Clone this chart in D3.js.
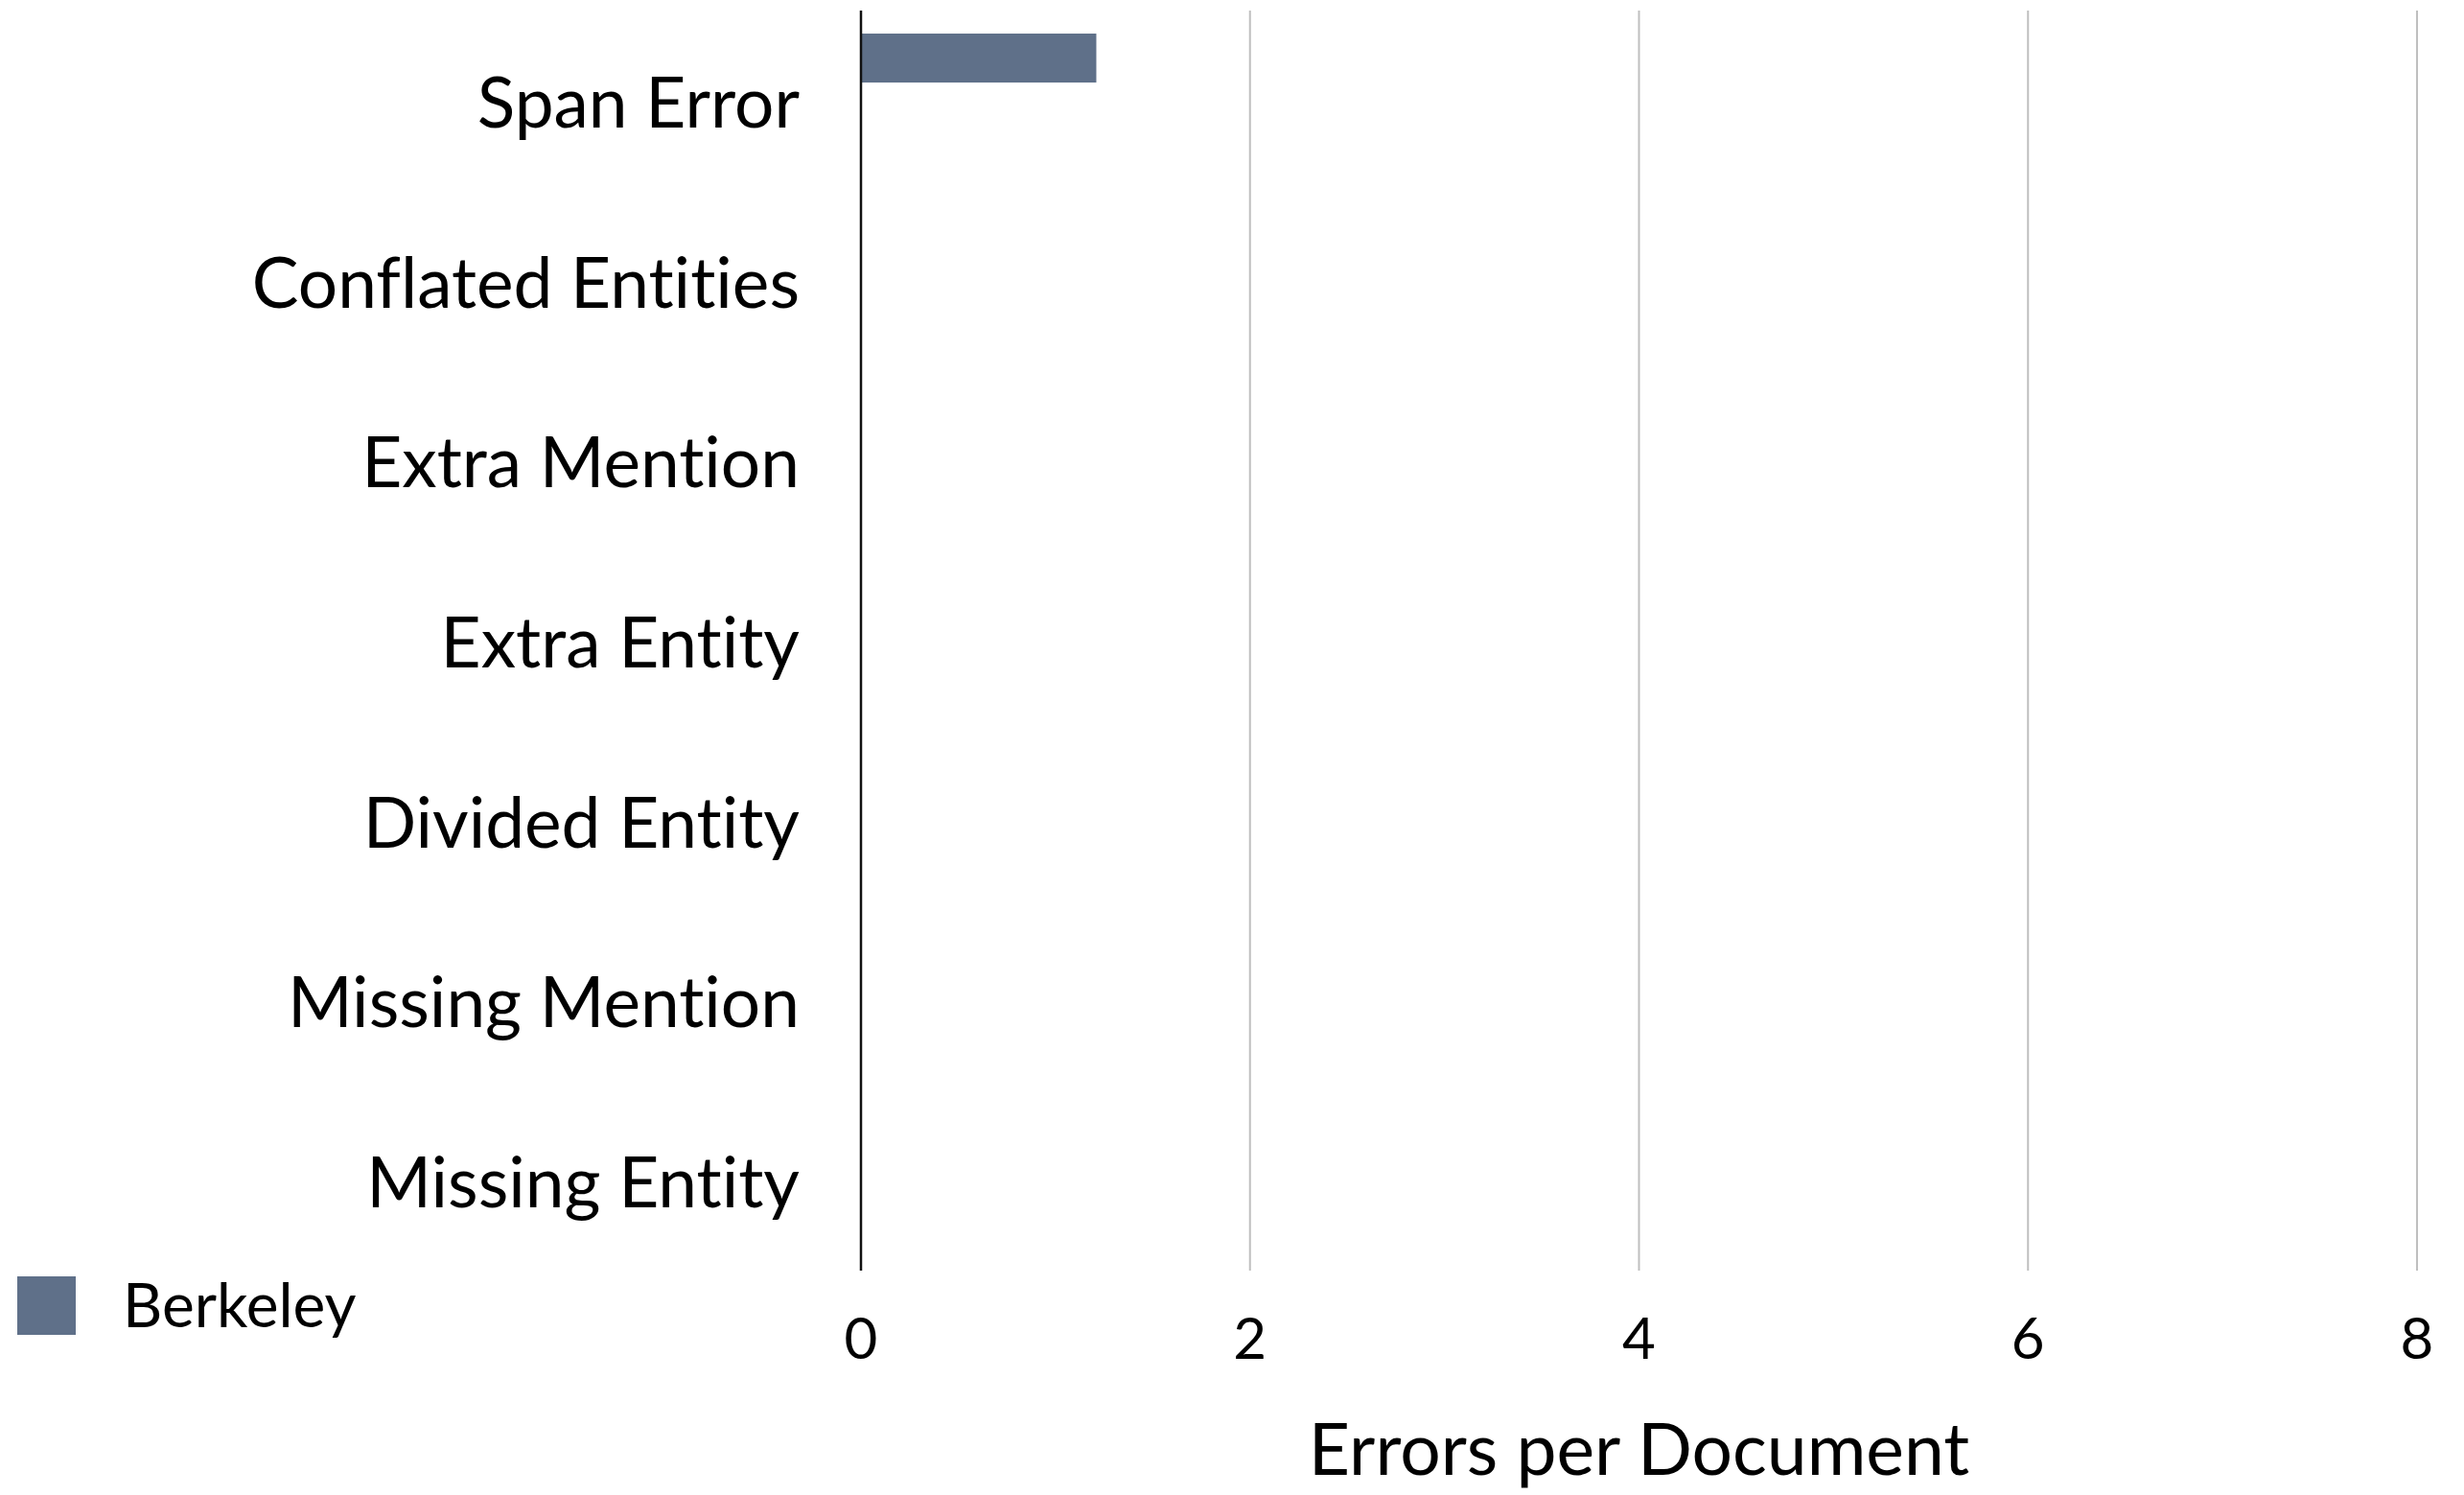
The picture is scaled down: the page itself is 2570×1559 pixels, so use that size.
<!DOCTYPE html>
<html>
<head>
<meta charset="utf-8">
<script src="https://cdn.jsdelivr.net/npm/d3@7"></script>
<style>
  html, body { margin: 0; padding: 0; background: #fff; }
  svg { display: block; }
  text { font-family: Lato, "Open Sans", sans-serif; fill: #000; font-variant-ligatures: none; font-feature-settings: "liga" 0, "clig" 0; }
</style>
</head>
<body>
<svg id="chart" width="2570" height="1559"></svg>
<script>
// Error categories, top to bottom
const categories = [
  "Span Error",
  "Conflated Entities",
  "Extra Mention",
  "Extra Entity",
  "Divided Entity",
  "Missing Mention",
  "Missing Entity"
];
const seriesNames = ["Berkeley"];
// Errors per document for the Berkeley system
const berkeleyValues = [1.21, 0, 0, 0, 0, 0, 0];
const xTicks = [0, 2, 4, 6, 8];
const xTitle = "Errors per Document";

const svg = d3.select("#chart");
const plot = { left: 898, right: 2521, top: 11, bottom: 1325 };
const barColor = "#5f7089";

const x = d3.scaleLinear().domain([0, 8]).range([plot.left, plot.right]);
const y = d3.scaleBand().domain(categories).range([plot.top, plot.bottom]).padding(0);
// position of the series bar inside each category band
const seriesBand = d3.scaleBand().domain(seriesNames)
  .range([y.bandwidth() * 0.128, y.bandwidth() * 0.4]);

// vertical gridlines
svg.append("g")
  .selectAll("line")
  .data(xTicks.filter(d => d !== 0))
  .join("line")
  .attr("x1", d => x(d)).attr("x2", d => x(d))
  .attr("y1", plot.top).attr("y2", plot.bottom)
  .attr("stroke", "#bfbfbf").attr("stroke-width", 2);

// bars
const data = categories.map((c, i) => ({ cat: c, value: berkeleyValues[i] }));
svg.append("g")
  .selectAll("rect")
  .data(data)
  .join("rect")
  .attr("x", x(0))
  .attr("y", d => y(d.cat) + seriesBand("Berkeley"))
  .attr("width", d => x(d.value) - x(0))
  .attr("height", seriesBand.bandwidth())
  .attr("fill", barColor);

// category axis line
svg.append("line")
  .attr("x1", x(0)).attr("x2", x(0))
  .attr("y1", plot.top).attr("y2", plot.bottom)
  .attr("stroke", "#111").attr("stroke-width", 2.5);

// category labels
svg.append("g")
  .selectAll("text")
  .data(categories)
  .join("text")
  .attr("x", 834)
  .attr("y", d => y(d) + y.bandwidth() / 2 + 28)
  .attr("text-anchor", "end")
  .style("font-size", "73px")
  .text(d => d);

// value tick labels
svg.append("g")
  .selectAll("text")
  .data(xTicks)
  .join("text")
  .attr("x", d => x(d))
  .attr("y", 1417)
  .attr("text-anchor", "middle")
  .style("font-size", "60px")
  .text(d => d);

// axis title
svg.append("text")
  .attr("x", (plot.left + plot.right) / 2)
  .attr("y", 1538)
  .attr("text-anchor", "middle")
  .style("font-size", "75px")
  .text(xTitle);

// legend
const legend = svg.append("g");
legend.selectAll("rect")
  .data(seriesNames)
  .join("rect")
  .attr("x", 18).attr("y", 1331)
  .attr("width", 61).attr("height", 61)
  .attr("fill", barColor);
legend.selectAll("text")
  .data(seriesNames)
  .join("text")
  .attr("x", 128).attr("y", 1384)
  .style("font-size", "64px")
  .text(d => d);
</script>
</body>
</html>
